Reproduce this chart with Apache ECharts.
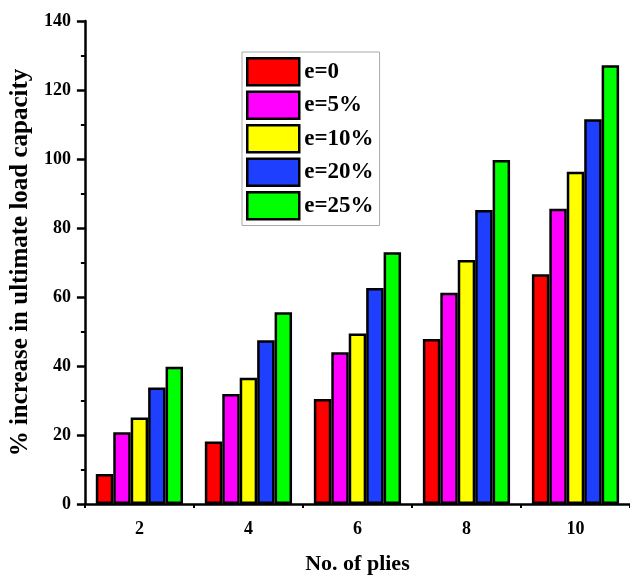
<!DOCTYPE html>
<html>
<head>
<meta charset="utf-8">
<script src="https://cdn.jsdelivr.net/npm/echarts@6/dist/echarts.min.js"></script>
<style>html,body{margin:0;padding:0;background:#fff;}#c{width:630px;height:583px;}</style>
</head>
<body>
<div id="c"></div>
<script>
var categories = ['2', '4', '6', '8', '10'];
var seriesNames = ['e=0', 'e=5%', 'e=10%', 'e=20%', 'e=25%'];
var e0  = [8.7, 18.1, 30.4, 47.8, 66.6];
var e5  = [20.8, 31.9, 44.0, 61.2, 85.6];
var e10 = [25.1, 36.6, 49.4, 70.7, 96.3];
var e20 = [33.8, 47.5, 62.6, 85.2, 111.5];
var e25 = [39.8, 55.6, 73.0, 99.7, 127.2];
var colors = ['#ff0000', '#ff00ff', '#ffff00', '#1f3fff', '#00ff00'];
var yTicks = [0, 20, 40, 60, 80, 100, 120, 140];

var FONT = "'Liberation Serif', 'Times New Roman', serif";
var allData = [e0, e5, e10, e20, e25];
var chart = echarts.init(document.getElementById('c'), null, {renderer: 'canvas'});
var series = allData.map(function (d, i) {
  return {
    name: seriesNames[i],
    type: 'bar',
    xAxisIndex: 0,
    data: d,
    barGap: '0%',
    barCategoryGap: '20%',
    itemStyle: {color: colors[i], borderColor: '#000', borderWidth: 2.5},
    emphasis: {disabled: true}
  };
});
chart.setOption({
  animation: false,
  backgroundColor: '#fff',
  grid: {left: 82, right: -8, top: 21, bottom: 79, containLabel: false},
  legend: {
    orient: 'vertical',
    left: 242, top: 52,
    padding: [5, 6, 5, 4],
    itemWidth: 52, itemHeight: 27, itemGap: 4,
    borderColor: '#aaa', borderWidth: 1, backgroundColor: '#fff',
    icon: 'rect',
    itemStyle: {borderColor: '#000', borderWidth: 2.5},
    textStyle: {fontFamily: FONT, fontWeight: 'bold', fontSize: 23, color: '#000'},
    data: seriesNames
  },
  xAxis: [{
    type: 'category',
    data: categories,
    position: 'bottom',
    boundaryGap: true,
    name: 'No. of plies',
    nameLocation: 'middle',
    nameGap: 49,
    nameTextStyle: {fontFamily: FONT, fontWeight: 'bold', fontSize: 22, color: '#000'},
    axisLine: {lineStyle: {color: '#000', width: 2.5}},
    axisTick: {alignWithLabel: true, length: 8, lineStyle: {color: '#000', width: 2.5}},
    axisLabel: {
      show: true, interval: 0,
      fontFamily: FONT, fontWeight: 'bold', fontSize: 18, color: '#000', margin: 16
    },
    splitLine: {show: false}
  }, {
    type: 'category',
    data: categories,
    position: 'bottom',
    boundaryGap: true,
    axisLine: {show: false},
    axisTick: {show: true, length: 4, lineStyle: {color: '#000', width: 2}},
    axisLabel: {show: false},
    splitLine: {show: false}
  }],
  yAxis: {
    type: 'value',
    min: yTicks[0], max: yTicks[yTicks.length - 1], interval: 20,
    name: '% increase in ultimate load capacity',
    nameLocation: 'middle',
    nameGap: 50,
    nameTextStyle: {fontFamily: FONT, fontWeight: 'bold', fontSize: 25, color: '#000'},
    axisLine: {show: true, lineStyle: {color: '#000', width: 2.5}},
    axisTick: {show: true, length: 8, lineStyle: {color: '#000', width: 2.5}},
    minorTick: {show: true, splitNumber: 2, length: 4, lineStyle: {color: '#000', width: 2}},
    axisLabel: {fontFamily: FONT, fontWeight: 'bold', fontSize: 18, color: '#000', margin: 14},
    splitLine: {show: false},
    minorSplitLine: {show: false}
  },
  series: series
});
</script>
</body>
</html>
